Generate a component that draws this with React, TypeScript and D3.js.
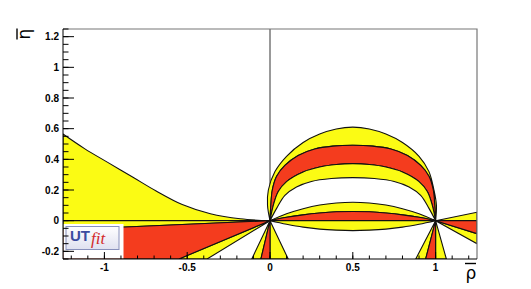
import * as d3 from "d3";

// contour boundaries, [rho, eta]
const arcOuter = [[0,0],[-0.015,0.1],[-0.01,0.2],[0.03,0.32],[0.1,0.42],[0.2,0.51],[0.3,0.565],[0.4,0.598],[0.5,0.61],[0.6,0.598],[0.7,0.565],[0.8,0.51],[0.9,0.42],[0.96,0.32],[0.99,0.2],[1.005,0.1],[1,0]];
const arcRedTop = [[0,0],[0.005,0.1],[0.014,0.2],[0.04,0.29],[0.09,0.36],[0.17,0.425],[0.27,0.467],[0.38,0.486],[0.5,0.492],[0.62,0.486],[0.73,0.467],[0.83,0.425],[0.91,0.36],[0.96,0.29],[0.986,0.2],[0.995,0.1],[1,0]];
const arcRedBot = [[0,0],[0.02,0.1],[0.05,0.19],[0.1,0.255],[0.2,0.318],[0.3,0.35],[0.4,0.366],[0.5,0.372],[0.6,0.366],[0.7,0.35],[0.8,0.318],[0.9,0.255],[0.95,0.19],[0.98,0.1],[1,0]];
const arcInner = [[0,0],[0.04,0.08],[0.09,0.165],[0.16,0.22],[0.25,0.256],[0.37,0.275],[0.5,0.281],[0.63,0.275],[0.75,0.256],[0.84,0.22],[0.91,0.165],[0.96,0.08],[1,0]];
const lensTop = [[0,0],[0.1,0.045],[0.2,0.078],[0.3,0.102],[0.4,0.115],[0.5,0.12],[0.6,0.115],[0.7,0.102],[0.8,0.078],[0.9,0.045],[1,0]];
const lensMid = [[0,0],[0.1,0.022],[0.2,0.038],[0.3,0.05],[0.4,0.058],[0.5,0.06],[0.6,0.058],[0.7,0.05],[0.8,0.038],[0.9,0.022],[1,0]];
const lensAxis = [[0,0],[1,0]];
const lensBot = [[0,0],[0.1,-0.023],[0.2,-0.042],[0.3,-0.055],[0.4,-0.062],[0.5,-0.065],[0.6,-0.062],[0.7,-0.055],[0.8,-0.042],[0.9,-0.023],[1,0]];
const leftUpper = [[-1.25,0.565],[-1.12,0.47],[-0.98,0.38],[-0.83,0.285],[-0.69,0.195],[-0.53,0.105],[-0.36,0.045],[-0.18,0.012],[0,0]];
const leftAxis = [[-1.25,0],[0,0]];

// straight wedges
const yellowWedges = [
  [[0,0],[-1.25,0],[-1.25,-0.059]],
  [[0,0],[-0.55,-0.25],[-0.38,-0.25]],
  [[0,0],[-0.11,-0.25],[-0.055,-0.25]],
  [[0,0],[0.0,-0.25],[0.11,-0.25]],
  [[1,0],[0.88,-0.25],[0.94,-0.25]],
  [[1,0],[1.0,-0.25],[1.065,-0.25]],
  [[1,0],[1.25,0.055],[1.25,0]],
  [[1,0],[1.25,-0.085],[1.25,-0.15]],
];
const redWedges = [
  [[0,0],[-1.25,-0.059],[-1.25,-0.25],[-0.55,-0.25]],
  [[0,0],[-0.055,-0.25],[0.0,-0.25]],
  [[1,0],[0.94,-0.25],[1.0,-0.25]],
  [[1,0],[1.25,0],[1.25,-0.085]],
];

const yMajor = [-0.2, 0, 0.2, 0.4, 0.6, 0.8, 1, 1.2];
const xMajor = [-1, -0.5, 0, 0.5, 1];

const W = 531, H = 289;
const L = 63, R = 477, T = 29, B = 259;
const YELLOW = "#fbfb14";
const RED = "#f43c1e";

export default function App() {
  const x = d3.scaleLinear().domain([-1.25, 1.25]).range([L, R]);
  const y = d3.scaleLinear().domain([-0.25, 1.25]).range([B, T]);
  const smooth = d3.line<number[]>().x((d) => x(d[0])).y((d) => y(d[1])).curve(d3.curveCatmullRom.alpha(0.5));
  const straight = d3.line<number[]>().x((d) => x(d[0])).y((d) => y(d[1]));
  const band = (a: number[][], b: number[][]) =>
    (smooth(a) as string) + (smooth([...b].reverse()) as string).replace(/^M/, "L") + "Z";
  const poly = (p: number[][]) => (straight(p) as string) + "Z";

  const bands: [string, string][] = [
    [band(arcOuter, arcRedTop), YELLOW],
    [band(arcRedTop, arcRedBot), RED],
    [band(arcRedBot, arcInner), YELLOW],
    [band(lensTop, lensMid), YELLOW],
    [band(lensMid, lensAxis), RED],
    [band(lensAxis, lensBot), YELLOW],
    [band(leftUpper, leftAxis), YELLOW],
    ...yellowWedges.map((p) => [poly(p), YELLOW] as [string, string]),
    ...redWedges.map((p) => [poly(p), RED] as [string, string]),
  ];

  const yMinor = d3.range(-0.25, 1.2501, 0.05).map((v) => +v.toFixed(2));
  const xMinor = d3.range(-1.2, 1.2001, 0.1).map((v) => +v.toFixed(2));
  const fmt = (v: number) => (v === 0 ? "0" : String(v));

  return (
    <svg width={W} height={H} style={{ position: "absolute", left: 0, top: 0, background: "#fff" }}>
      <defs>
        <clipPath id="frame"><rect x={L} y={T} width={R - L} height={B - T} /></clipPath>
        <linearGradient id="logo" x1="0" y1="0" x2="0" y2="1">
          <stop offset="0" stopColor="#ffffff" />
          <stop offset="1" stopColor="#dfe1f0" />
        </linearGradient>
      </defs>
      <line x1={x(0)} x2={x(0)} y1={T} y2={B} stroke="#555" strokeWidth={1.2} />
      <g clipPath="url(#frame)">
        {bands.map(([d, c], i) => (
          <path key={i} d={d} fill={c} stroke="#111" strokeWidth={1.1} strokeLinejoin="round" />
        ))}
      </g>
      {/* logo */}
      <rect x={L + 0.5} y={224} width={60} height={B - 224.5} fill="#fff" />
      <rect x={66} y={226.5} width={53} height={23} fill="url(#logo)" stroke="#8890bb" strokeWidth={1} />
      <text x={70} y={241} fontFamily="Liberation Sans, Arial, sans-serif" fontWeight="bold" fontSize={15} fill="#3b4ba0">UT</text>
      <text x={91} y={244} fontFamily="Liberation Serif, serif" fontStyle="italic" fontSize={17} fill="#d32a2a">fit</text>
      {/* frame */}
      <path d={`M${L},${T}H${R}V${B}`} fill="none" stroke="#777" strokeWidth={1.2} />
      <line x1={L} x2={L} y1={T} y2={B} stroke="#000" strokeWidth={1} />
      <line x1={L} x2={R} y1={B} y2={B} stroke="#000" strokeWidth={1} />
      {yMinor.map((v) => (
        <line key={"ym" + v} x1={L} x2={L + 5.5} y1={y(v)} y2={y(v)} stroke="#000" strokeWidth={1} />
      ))}
      {yMajor.map((v) => (
        <g key={"yM" + v}>
          <line x1={L} x2={L + 11} y1={y(v)} y2={y(v)} stroke="#000" strokeWidth={1} />
          <text x={59} y={y(v)} dy="0.35em" textAnchor="end" fontFamily="Liberation Sans, Arial, sans-serif" fontWeight="bold" fontSize={10}>{fmt(v)}</text>
        </g>
      ))}
      {xMinor.map((v) => (
        <line key={"xm" + v} x1={x(v)} x2={x(v)} y1={B} y2={B - 3.5} stroke="#000" strokeWidth={1} />
      ))}
      {xMajor.map((v) => (
        <g key={"xM" + v}>
          <line x1={x(v)} x2={x(v)} y1={B} y2={B - 7} stroke="#000" strokeWidth={1} />
          <text x={x(v)} y={271} textAnchor="middle" fontFamily="Liberation Sans, Arial, sans-serif" fontWeight="bold" fontSize={10}>{fmt(v)}</text>
        </g>
      ))}
      {/* axis titles */}
      <text x={471} y={279} textAnchor="middle" fontFamily="DejaVu Sans, sans-serif" fontSize={17}>ρ</text>
      <line x1={465} x2={476} y1={263.5} y2={263.5} stroke="#000" strokeWidth={1.4} />
      <g transform="translate(30,34) rotate(-90)">
        <text x={0} y={0} textAnchor="middle" fontFamily="DejaVu Sans, sans-serif" fontSize={17}>η</text>
        <line x1={-5.5} x2={5.5} y1={-13} y2={-13} stroke="#000" strokeWidth={1.4} />
      </g>
    </svg>
  );
}
